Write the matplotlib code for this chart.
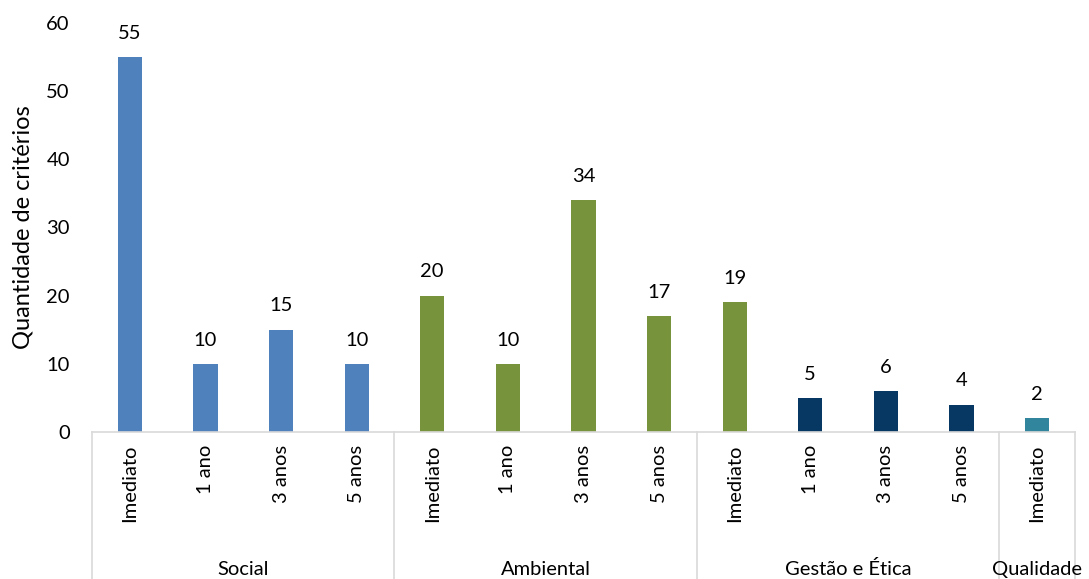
import matplotlib
matplotlib.use("Agg")
import matplotlib.pyplot as plt
import matplotlib.transforms as mtransforms

# dados
periodos = ["Imediato", "1 ano", "3 anos", "5 anos",
            "Imediato", "1 ano", "3 anos", "5 anos",
            "Imediato", "1 ano", "3 anos", "5 anos",
            "Imediato"]
valores = [55, 10, 15, 10, 20, 10, 34, 17, 19, 5, 6, 4, 2]
grupos = ["Social", "Ambiental", "Gestão e Ética", "Qualidade"]
tamanho_grupos = [4, 4, 4, 1]
cores = ["#4F81BD"] * 4 + ["#77933C"] * 5 + ["#073763"] * 3 + ["#31859C"]

plt.rcParams["font.family"] = ["Lato", "DejaVu Sans"]
fs = 14.5

fig = plt.figure(figsize=(10.89, 5.79), dpi=100)
ax = fig.add_axes([0.0845, 0.2539, 0.9025, 0.7064])

x = list(range(len(valores)))
bars = ax.bar(x, valores, width=0.32, color=cores)
for b, v in zip(bars, valores):
    ax.annotate(str(v), (b.get_x() + b.get_width() / 2, v),
                xytext=(0, 11), textcoords="offset points",
                ha="center", va="bottom", fontsize=fs)

ax.set_xlim(-0.5, len(valores) - 0.5)
ax.set_ylim(0, 60)
ax.set_yticks(range(0, 61, 10))
ax.tick_params(axis="y", length=0, labelsize=fs, pad=16)
ax.set_xticks(x)
ax.set_xticklabels(periodos, rotation=90, fontsize=fs, va="top")
ax.tick_params(axis="x", length=0, pad=9)
ax.set_ylabel("Quantidade de critérios", fontsize=17, labelpad=9)

for s in ["top", "right", "left"]:
    ax.spines[s].set_visible(False)
ax.spines["bottom"].set_color("#D9D9D9")
ax.spines["bottom"].set_linewidth(1.2)

# eixo de categorias em dois níveis
trans = mtransforms.blended_transform_factory(ax.transData, ax.transAxes)
inicio = -0.5
limites = [inicio]
for nome, n in zip(grupos, tamanho_grupos):
    fim = inicio + n
    ax.text((inicio + fim) / 2, -0.335, nome, transform=trans,
            ha="center", va="center", fontsize=fs)
    limites.append(fim)
    inicio = fim
for b in limites:
    ax.plot([b, b], [0, -0.37], transform=trans, color="#D9D9D9",
            lw=1.2, clip_on=False)

fig.savefig("out.png", dpi=100)
